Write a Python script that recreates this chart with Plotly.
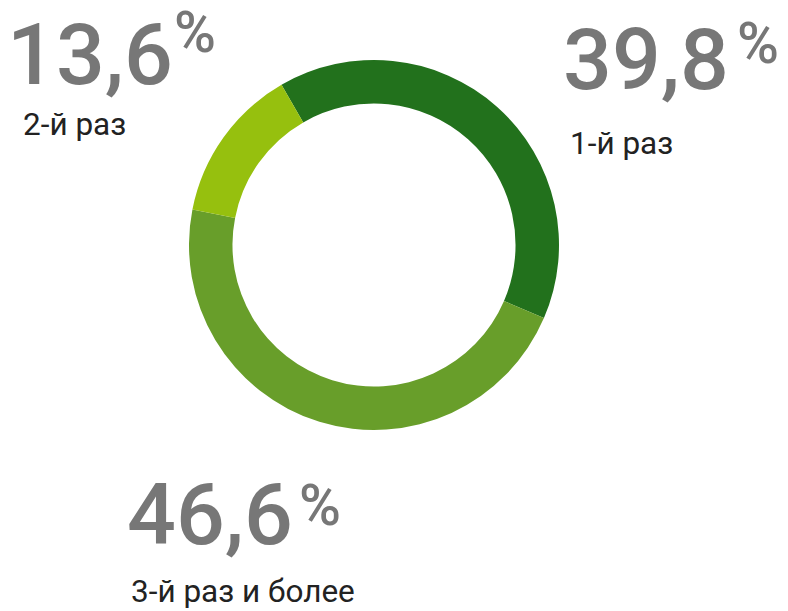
import plotly.graph_objects as go

W, H = 788, 611

labels = ["1-й раз", "3-й раз и более", "2-й раз"]
values = [39.8, 46.6, 13.6]
colors = ["#22711C", "#689E2A", "#96C00E"]
value_text = ["39,8", "46,6", "13,6"]

# label layout: (number left x, number cap top, % left x, % top, label left x, label cap top)
pos = [
    (568, 28, 740, 23, 572, 132),
    (132, 483, 302, 485, 133, None),
    (12, 23, 177, 12, 25, 113),
]

cx, cy, r = 374, 245, 185
fig = go.Figure(go.Pie(
    labels=labels, values=values, sort=False, direction="clockwise",
    rotation=-30, hole=0.765,
    marker=dict(colors=colors, line=dict(width=0)),
    textinfo="none", hoverinfo="label+value", showlegend=False,
    domain=dict(x=[(cx - r) / W, (cx + r) / W], y=[(H - cy - r) / H, (H - cy + r) / H]),
))

FONT = "Roboto"

def add(text, x_left, cap_top, size, color, weight=400):
    if cap_top is None:
        y, ya = 0, "bottom"
    else:
        y, ya = 1 - (cap_top - 0.22 * size - 1) / H, "top"
    fig.add_annotation(
        text=text, xref="paper", yref="paper",
        x=(x_left - 0.06 * size - 1) / W, y=y,
        xanchor="left", yanchor=ya, showarrow=False,
        font=dict(family=FONT, size=size, color=color, weight=weight), borderpad=0,
    )

for vt, lab, p in zip(value_text, labels, pos):
    add(vt, p[0], p[1], 86, "#777777", 500)
    add("%", p[2], p[3], 57, "#777777", 500)
    add(lab, p[4], p[5], 31.5, "#222222")

fig.update_layout(
    width=W, height=H, margin=dict(l=0, r=0, t=0, b=0),
    paper_bgcolor="white", plot_bgcolor="white",
)
fig.write_html("out.html")
